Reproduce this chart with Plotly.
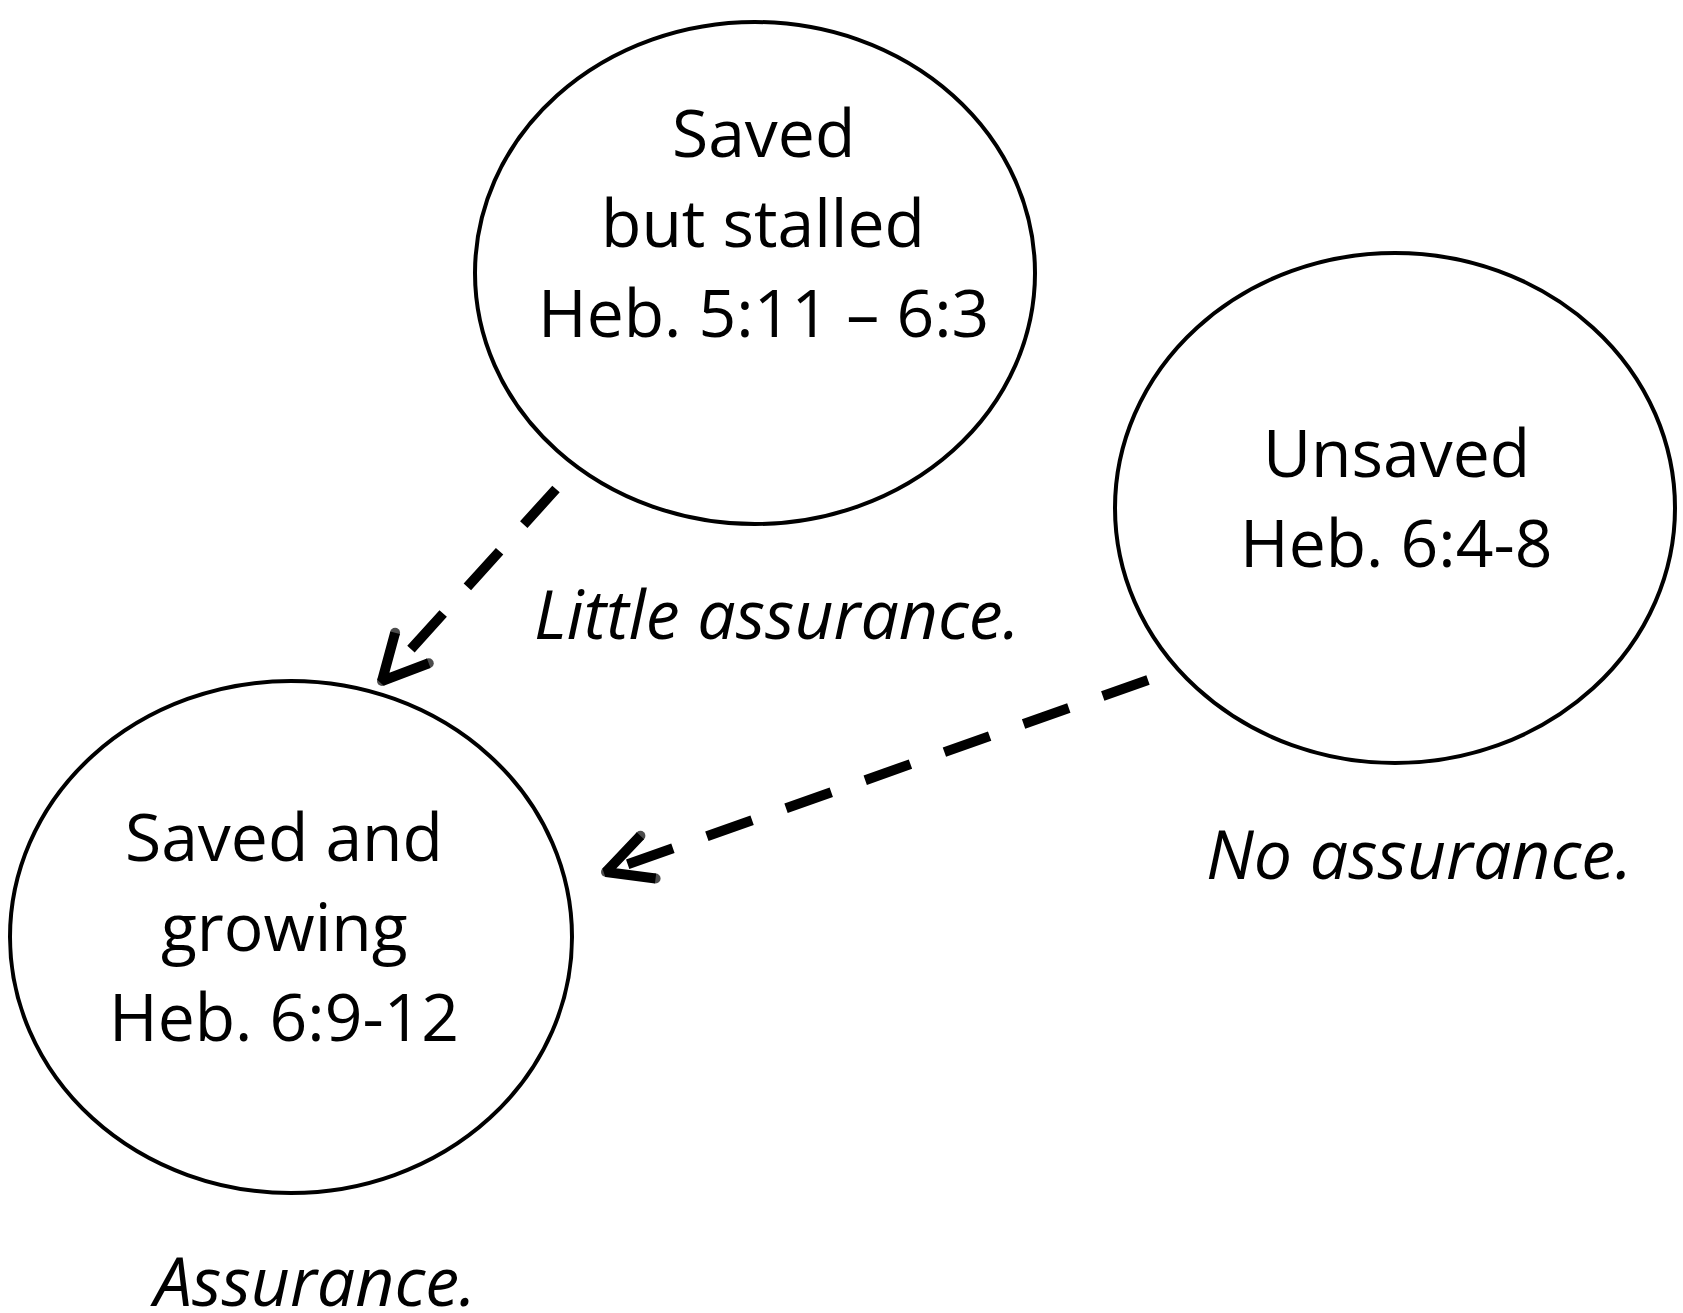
import math
import plotly.graph_objects as go

# ---- data ----
node_cx = [755, 1395, 291]
node_cy = [273, 508, 937]
node_rx = [280, 280, 281]
node_ry = [251, 255, 256]
node_lines = [
    ["Saved", "but stalled", "Heb. 5:11 – 6:3"],
    ["Unsaved", "Heb. 6:4-8"],
    ["Saved and", "growing", "Heb. 6:9-12"],
]
node_text_x = [763, 1396, 284]
node_text_y0 = [131, 451, 835]

caption_text = ["Little assurance.", "No assurance.", "Assurance."]
caption_x = [777, 1419, 313]
caption_y = [612, 852, 1279]

arrow_x0 = [556, 1148]
arrow_y0 = [489, 680]
arrow_x1 = [382, 606]
arrow_y1 = [681, 872]

W, H = 1683, 1313
FONT = "Open Sans"
FS = 66
FS_CAP = 68
LINE_GAP = 90
ARW = 10
HEAD_LEN = 50
HEAD_ANG = math.radians(27)

fig = go.Figure()

# ellipses
for cx, cy, rx, ry in zip(node_cx, node_cy, node_rx, node_ry):
    fig.add_shape(type="circle", xref="x", yref="y",
                  x0=cx - rx, x1=cx + rx, y0=cy - ry, y1=cy + ry,
                  line=dict(color="black", width=4), fillcolor="rgba(0,0,0,0)")

# node labels
for lines, tx, ty in zip(node_lines, node_text_x, node_text_y0):
    for i, t in enumerate(lines):
        fig.add_annotation(x=tx, y=ty + i * LINE_GAP, text=t, showarrow=False,
                           xanchor="center", yanchor="middle",
                           font=dict(family=FONT, size=FS, color="black"))

# captions
for t, cx, cy in zip(caption_text, caption_x, caption_y):
    fig.add_annotation(x=cx, y=cy, text=t, showarrow=False,
                       xanchor="center", yanchor="middle",
                       font=dict(family=FONT, size=FS_CAP, color="black", style="italic"))

# dashed arrows
for x0, y0, x1, y1 in zip(arrow_x0, arrow_y0, arrow_x1, arrow_y1):
    fig.add_trace(go.Scatter(x=[x0, x1], y=[y0, y1], mode="lines",
                             line=dict(color="black", width=ARW, dash="48px,36px"),
                             hoverinfo="skip", showlegend=False))
    ang = math.atan2(y0 - y1, x0 - x1)
    ax = [x1 + HEAD_LEN * math.cos(ang + HEAD_ANG), x1, x1 + HEAD_LEN * math.cos(ang - HEAD_ANG)]
    ay = [y1 + HEAD_LEN * math.sin(ang + HEAD_ANG), y1, y1 + HEAD_LEN * math.sin(ang - HEAD_ANG)]
    fig.add_trace(go.Scatter(x=ax, y=ay, mode="lines+markers",
                             line=dict(color="black", width=ARW),
                             marker=dict(size=[ARW, ARW, ARW], color="black", line=dict(width=0)),
                             hoverinfo="skip", showlegend=False))

fig.update_layout(
    width=W, height=H,
    margin=dict(l=0, r=0, t=0, b=0),
    paper_bgcolor="white", plot_bgcolor="white",
    xaxis=dict(range=[0, W], visible=False, fixedrange=True),
    yaxis=dict(range=[H, 0], visible=False, fixedrange=True),
    showlegend=False,
)

fig.write_html("out.html", config={"displayModeBar": False},
               post_script="document.body.style.margin='0';document.body.style.overflow='hidden';")
